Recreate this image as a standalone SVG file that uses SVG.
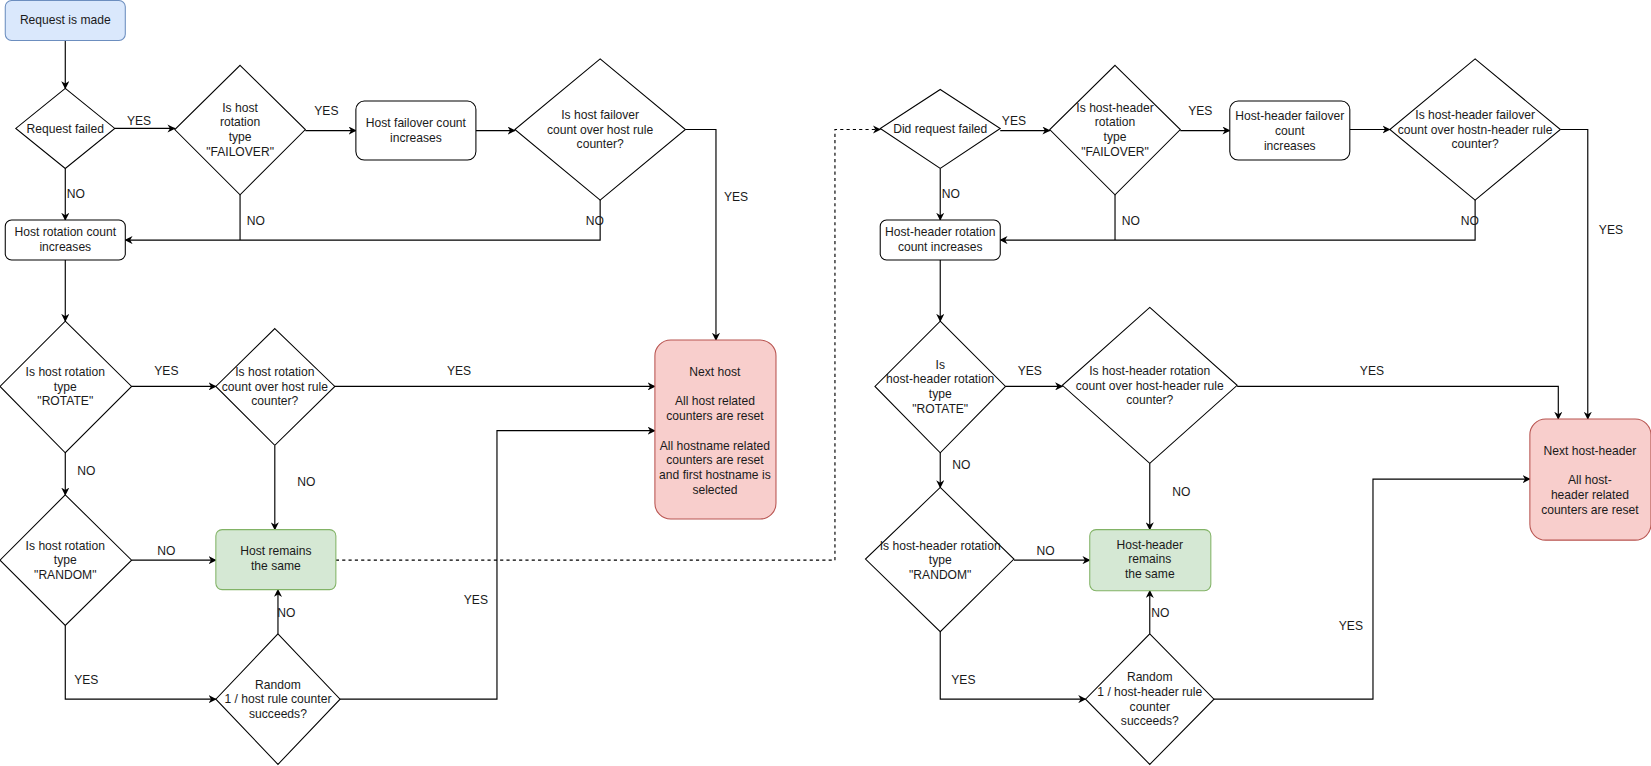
<svg xmlns="http://www.w3.org/2000/svg" width="1651" height="766" viewBox="0 0 1651 766">
<style>
text{font-family:"Liberation Sans",Arial,sans-serif;font-size:11.5px;fill:#1a1a1a;text-anchor:middle}
.n{fill:#fff;stroke:#000;stroke-width:1}
.b{fill:#dae8fc;stroke:#6c8ebf}
.r{fill:#f8cecc;stroke:#b85450}
.g{fill:#d5e8d4;stroke:#82b366}
.c{fill:none;stroke:#000;stroke-width:1.1}
.d{stroke-dasharray:3 3}
.l{fill:#1a1a1a}
</style>
<defs><marker id="a" viewBox="0 0 10 10" refX="9" refY="5" markerWidth="7" markerHeight="7" orient="auto"><path d="M0,0L10,5L0,10L3,5Z" fill="#000"/></marker></defs>
<rect width="1651" height="766" fill="#fff"/>
<g transform="scale(1.0529)">
<g id="connectors">
<path class="c" marker-end="url(#a)" d="M62,38V84"/>
<path class="c" marker-end="url(#a)" d="M109,122H166"/>
<path class="c" marker-end="url(#a)" d="M290,124H338"/>
<path class="c" marker-end="url(#a)" d="M452,124H489"/>
<path class="c" marker-end="url(#a)" d="M651,123H680V323"/>
<path class="c" marker-end="url(#a)" d="M570,190V228H119"/>
<path class="c" d="M228,185V228"/>
<path class="c" marker-end="url(#a)" d="M62,160V209"/>
<path class="c" marker-end="url(#a)" d="M62,247V305"/>
<path class="c" marker-end="url(#a)" d="M125,367H205"/>
<path class="c" marker-end="url(#a)" d="M318,367H622"/>
<path class="c" marker-end="url(#a)" d="M261,423V503"/>
<path class="c" marker-end="url(#a)" d="M62,430V470"/>
<path class="c" marker-end="url(#a)" d="M125,532H205"/>
<path class="c d" marker-end="url(#a)" d="M319,532H793V123H836"/>
<path class="c" marker-end="url(#a)" d="M62,594V664H205"/>
<path class="c" marker-end="url(#a)" d="M264,602V560"/>
<path class="c" marker-end="url(#a)" d="M323,664H472V409H622"/>
<path class="c" marker-end="url(#a)" d="M950,124H997"/>
<path class="c" marker-end="url(#a)" d="M1121,124H1168"/>
<path class="c" marker-end="url(#a)" d="M1282,123H1320"/>
<path class="c" marker-end="url(#a)" d="M1482,123H1508V398"/>
<path class="c" marker-end="url(#a)" d="M1401,190V228H950"/>
<path class="c" d="M1059,185V228"/>
<path class="c" marker-end="url(#a)" d="M893,160V209"/>
<path class="c" marker-end="url(#a)" d="M893,247V305"/>
<path class="c" marker-end="url(#a)" d="M955,367H1009"/>
<path class="c" marker-end="url(#a)" d="M1175,367H1480V398"/>
<path class="c" marker-end="url(#a)" d="M1092,440V503"/>
<path class="c" marker-end="url(#a)" d="M893,430V463"/>
<path class="c" marker-end="url(#a)" d="M963,532H1035"/>
<path class="c" marker-end="url(#a)" d="M893,600V664H1031"/>
<path class="c" marker-end="url(#a)" d="M1092,602V561"/>
<path class="c" marker-end="url(#a)" d="M1153,664H1304V455H1453"/>
<g class="lbl">
<text x="132" y="119">YES</text><text x="310" y="109">YES</text><text x="699" y="191">YES</text>
<text x="565" y="214">NO</text><text x="243" y="214">NO</text><text x="72" y="188">NO</text>
<text x="158" y="356">YES</text><text x="436" y="356">YES</text><text x="291" y="462">NO</text>
<text x="82" y="451">NO</text><text x="158" y="527">NO</text><text x="82" y="650">YES</text>
<text x="272" y="586">NO</text><text x="452" y="574">YES</text>
<text x="963" y="119">YES</text><text x="1140" y="109">YES</text><text x="1530" y="222">YES</text>
<text x="1396" y="214">NO</text><text x="1074" y="214">NO</text><text x="903" y="188">NO</text>
<text x="978" y="356">YES</text><text x="1303" y="356">YES</text><text x="1122" y="471">NO</text>
<text x="913" y="445">NO</text><text x="993" y="527">NO</text><text x="915" y="650">YES</text>
<text x="1102" y="586">NO</text><text x="1283" y="598">YES</text>
</g>
</g>
<g id="start"><rect class="b" x="5" y="0.5" width="114" height="38" rx="6"/><text x="62" y="23">Request is made</text></g>
<g id="reqFailed"><path class="n" d="M62,84L109,122L62,160L15,122Z"/><text x="62" y="126">Request failed</text></g>
<g id="isFailover"><path class="n" d="M228,62L290,123L228,185L166,123Z"/><text x="228" y="106">Is host<tspan x="228" dy="14">rotation</tspan><tspan x="228" dy="14">type</tspan><tspan x="228" dy="14">"FAILOVER"</tspan></text></g>
<g id="hostFailoverInc"><rect class="n" x="338" y="96" width="114" height="56" rx="8"/><text x="395" y="121">Host failover count<tspan x="395" dy="14">increases</tspan></text></g>
<g id="hostFailoverOver"><path class="n" d="M570,56L651,123L570,190L489,123Z"/><text x="570" y="113">Is host failover<tspan x="570" dy="14">count over host rule</tspan><tspan x="570" dy="14">counter?</tspan></text></g>
<g id="hostRotInc"><rect class="n" x="5" y="209" width="114" height="38" rx="6"/><text x="62" y="224">Host rotation count<tspan x="62" dy="14">increases</tspan></text></g>
<g id="isRotate"><path class="n" d="M62,305L125,367L62,430L0,367Z"/><text x="62" y="357">Is host rotation<tspan x="62" dy="14">type</tspan><tspan x="62" dy="14">"ROTATE"</tspan></text></g>
<g id="hostRotOver"><path class="n" d="M261,312L318,367L261,423L205,367Z"/><text x="261" y="357">Is host rotation<tspan x="261" dy="14">count over host rule</tspan><tspan x="261" dy="14">counter?</tspan></text></g>
<g id="nextHost"><rect class="r" x="622" y="323" width="115" height="170" rx="15"/><text x="679" y="357">Next host<tspan x="679" dy="28">All host related</tspan><tspan x="679" dy="14">counters are reset</tspan><tspan x="679" dy="28">All hostname related</tspan><tspan x="679" dy="14">counters are reset</tspan><tspan x="679" dy="14">and first hostname is</tspan><tspan x="679" dy="14">selected</tspan></text></g>
<g id="isRandom"><path class="n" d="M62,470L125,532L62,594L0,532Z"/><text x="62" y="522">Is host rotation<tspan x="62" dy="14">type</tspan><tspan x="62" dy="14">"RANDOM"</tspan></text></g>
<g id="hostSame"><rect class="g" x="205" y="503" width="114" height="57" rx="6"/><text x="262" y="527">Host remains<tspan x="262" dy="14">the same</tspan></text></g>
<g id="randomHost"><path class="n" d="M264,602L323,664L264,726L205,664Z"/><text x="264" y="654">Random<tspan x="264" dy="14">1 / host rule counter</tspan><tspan x="264" dy="14">succeeds?</tspan></text></g>
<g id="didReqFailed"><path class="n" d="M893,85L950,122L893,160L836,122Z"/><text x="893" y="126">Did request failed</text></g>
<g id="isHhFailover"><path class="n" d="M1059,62L1121,123L1059,185L997,123Z"/><text x="1059" y="106">Is host-header<tspan x="1059" dy="14">rotation</tspan><tspan x="1059" dy="14">type</tspan><tspan x="1059" dy="14">"FAILOVER"</tspan></text></g>
<g id="hhFailoverInc"><rect class="n" x="1168" y="96" width="114" height="56" rx="8"/><text x="1225" y="114">Host-header failover<tspan x="1225" dy="14">count</tspan><tspan x="1225" dy="14">increases</tspan></text></g>
<g id="hhFailoverOver"><path class="n" d="M1401,56L1482,123L1401,190L1320,123Z"/><text x="1401" y="113">Is host-header failover<tspan x="1401" dy="14">count over hostn-header rule</tspan><tspan x="1401" dy="14">counter?</tspan></text></g>
<g id="hhRotInc"><rect class="n" x="836" y="209" width="114" height="38" rx="6"/><text x="893" y="224">Host-header rotation<tspan x="893" dy="14">count increases</tspan></text></g>
<g id="isHhRotate"><path class="n" d="M893,305L955,367L893,430L831,367Z"/><text x="893" y="350">Is<tspan x="893" dy="14">host-header rotation</tspan><tspan x="893" dy="14">type</tspan><tspan x="893" dy="14">"ROTATE"</tspan></text></g>
<g id="hhRotOver"><path class="n" d="M1092,292L1175,366L1092,440L1009,366Z"/><text x="1092" y="356">Is host-header rotation<tspan x="1092" dy="14">count over host-header rule</tspan><tspan x="1092" dy="14">counter?</tspan></text></g>
<g id="nextHh"><rect class="r" x="1453" y="398" width="115" height="115" rx="15"/><text x="1510" y="432">Next host-header<tspan x="1510" dy="28">All host-</tspan><tspan x="1510" dy="14">header related</tspan><tspan x="1510" dy="14">counters are reset</tspan></text></g>
<g id="isHhRandom"><path class="n" d="M893,463L963,531L893,600L822,531Z"/><text x="893" y="522">Is host-header rotation<tspan x="893" dy="14">type</tspan><tspan x="893" dy="14">"RANDOM"</tspan></text></g>
<g id="hhSame"><rect class="g" x="1035" y="503" width="115" height="58" rx="6"/><text x="1092" y="521">Host-header<tspan x="1092" dy="14">remains</tspan><tspan x="1092" dy="14">the same</tspan></text></g>
<g id="randomHh"><path class="n" d="M1092,602L1153,664L1092,726L1031,664Z"/><text x="1092" y="647">Random<tspan x="1092" dy="14">1 / host-header rule</tspan><tspan x="1092" dy="14">counter</tspan><tspan x="1092" dy="14">succeeds?</tspan></text></g>
</g>
</svg>
